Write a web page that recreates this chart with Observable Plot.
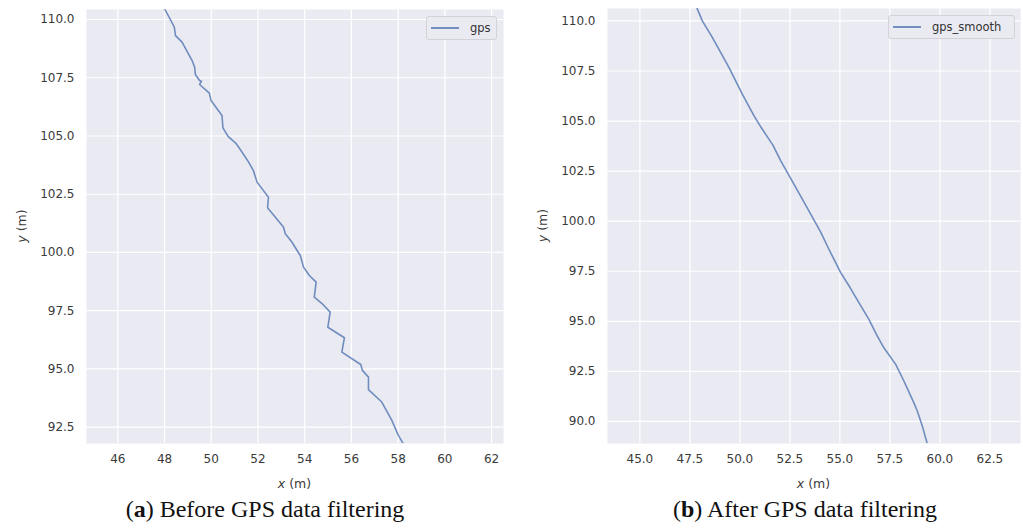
<!DOCTYPE html>
<html>
<head>
<meta charset="utf-8">
<script src="https://cdn.jsdelivr.net/npm/d3@7"></script>
<script src="https://cdn.jsdelivr.net/npm/@observablehq/plot@0.6"></script>
<style>
  body { margin: 0; background: #fff; }
  #wrap { position: relative; width: 1023px; height: 530px; overflow: hidden; font-family: "DejaVu Sans", sans-serif; }
  .panel { position: absolute; top: 0; }
  .legend { position: absolute; box-sizing: border-box; background: #EAEAF2; border: 1px solid #d2d2d8; border-radius: 3px;
            font-family: "DejaVu Sans", sans-serif; font-size: 11.5px; color: #333; display: flex; align-items: center; }
  .legend .ln { display: inline-block; height: 1.6px; background: #4C72B0; opacity: 0.75; }
  .caption { position: absolute; font-family: "Liberation Serif", "DejaVu Serif", serif; font-size: 24px; color: #111; white-space: nowrap; transform: translateX(-50%); }
</style>
</head>
<body>
<div id="wrap"></div>
<script>
// ---- Data ----
const gpsX = [47.95, 48.02, 48.42, 48.47, 48.75, 49.18, 49.29, 49.32, 49.50, 49.58, 49.50, 49.92, 49.99, 50.46, 50.50, 50.72, 51.07, 51.27, 51.60, 51.81, 51.96, 52.45, 52.41, 53.09, 53.17, 53.45, 53.81, 53.95, 54.20, 54.49, 54.41, 54.73, 55.09, 54.99, 55.70, 55.59, 56.40, 56.47, 56.73, 56.73, 57.30, 57.73, 58.01, 58.22, 58.35];
const gpsY = [110.60, 110.43, 109.67, 109.31, 109.03, 108.24, 107.95, 107.64, 107.38, 107.35, 107.21, 106.84, 106.52, 105.88, 105.35, 104.98, 104.67, 104.38, 103.88, 103.50, 103.02, 102.37, 101.92, 101.09, 100.80, 100.45, 99.87, 99.37, 99.01, 98.73, 98.08, 97.82, 97.44, 96.79, 96.34, 95.72, 95.19, 94.94, 94.65, 94.11, 93.58, 92.79, 92.15, 91.79, 91.50];

const smoothX = [47.80, 47.87, 48.12, 48.62, 49.05, 49.45, 50.12, 50.70, 51.05, 51.35, 51.65, 52.05, 52.70, 53.54, 54.04, 54.45, 55.04, 55.50, 55.95, 56.45, 56.85, 57.20, 57.79, 58.20, 58.55, 58.70, 58.87, 59.12, 59.37, 59.45];
const smoothY = [110.90, 110.60, 110.00, 109.18, 108.40, 107.68, 106.35, 105.27, 104.70, 104.25, 103.80, 103.00, 101.85, 100.35, 99.45, 98.60, 97.43, 96.70, 95.93, 95.10, 94.30, 93.68, 92.85, 92.02, 91.25, 90.93, 90.52, 89.77, 88.88, 88.50];

const leftXTicks = [46, 48, 50, 52, 54, 56, 58, 60, 62];
const leftYTicks = [92.5, 95.0, 97.5, 100.0, 102.5, 105.0, 107.5, 110.0];
const rightXTicks = [45.0, 47.5, 50.0, 52.5, 55.0, 57.5, 60.0, 62.5];
const rightYTicks = [90.0, 92.5, 95.0, 97.5, 100.0, 102.5, 105.0, 107.5, 110.0];

const seriesNames = ["gps", "gps_smooth"];
const captions = [["a", " Before GPS data filtering"], ["b", " After GPS data filtering"]];

const lineColor = "#4C72B0";
const bg = "#EAEAF2";

function makePanel(opts) {
  const rows = opts.xs.map((x, i) => ({x, y: opts.ys[i]}));
  const svg = Plot.plot({
    width: opts.width,
    height: 500,
    marginLeft: opts.ml,
    marginRight: opts.mr,
    marginTop: opts.mt,
    marginBottom: 57,
    style: {fontFamily: "DejaVu Sans, sans-serif", fontSize: "12px", color: "#3a3a3a", background: "transparent"},
    x: {domain: opts.xd, ticks: opts.xt, tickFormat: opts.xf, tickSize: 0, tickPadding: 11, label: null},
    y: {domain: opts.yd, ticks: opts.yt, tickFormat: d3.format(".1f"), tickSize: 0, tickPadding: 12, label: null},
    marks: [
      Plot.frame({fill: bg, stroke: null}),
      Plot.gridX(opts.xt, {stroke: "#fff", strokeOpacity: 1, strokeWidth: 1.2}),
      Plot.gridY(opts.yt, {stroke: "#fff", strokeOpacity: 1, strokeWidth: 1.2}),
      Plot.line(rows, {x: "x", y: "y", stroke: lineColor, strokeWidth: 1.6, strokeOpacity: 0.78, clip: true})
    ]
  });
  const s = d3.select(svg);
  // axis titles
  const yl = s.append("text")
    .attr("transform", `translate(${opts.ylx},${(opts.mt + 443) / 2}) rotate(-90)`)
    .attr("text-anchor", "middle").attr("dominant-baseline", "middle")
    .attr("fill", "#3a3a3a").attr("font-size", 12.5).attr("font-family", "DejaVu Sans, sans-serif");
  yl.append("tspan").attr("font-style", "italic").text("y");
  yl.append("tspan").text(" (m)");
  const xl = s.append("text")
    .attr("x", (opts.ml + opts.width - opts.mr) / 2).attr("y", 484)
    .attr("text-anchor", "middle").attr("dominant-baseline", "middle")
    .attr("fill", "#3a3a3a").attr("font-size", 12.5).attr("font-family", "DejaVu Sans, sans-serif");
  xl.append("tspan").attr("font-style", "italic").text("x");
  xl.append("tspan").text(" (m)");
  return svg;
}

const wrap = document.getElementById("wrap");

const left = document.createElement("div");
left.className = "panel"; left.style.left = "0px";
left.appendChild(makePanel({
  xs: gpsX, ys: gpsY, width: 511, ml: 86, mr: 8, mt: 9,
  xd: [44.66, 62.51], yd: [91.8, 110.43], xt: leftXTicks, yt: leftYTicks,
  xf: d3.format("d"), ylx: 22
}));
wrap.appendChild(left);

const right = document.createElement("div");
right.className = "panel"; right.style.left = "512px";
right.appendChild(makePanel({
  xs: smoothX, ys: smoothY, width: 511, ml: 95, mr: 3, mt: 8,
  xd: [43.38, 64.03], yd: [88.9, 110.62], xt: rightXTicks, yt: rightYTicks,
  xf: d3.format(".1f"), ylx: 31
}));
wrap.appendChild(right);

// legends
function legend(name, x, y, w, lineW) {
  const d = document.createElement("div");
  d.className = "legend";
  d.style.left = x + "px"; d.style.top = y + "px"; d.style.width = w + "px"; d.style.height = "24px";
  d.style.paddingLeft = "4px";
  const ln = document.createElement("span"); ln.className = "ln"; ln.style.width = lineW + "px";
  const t = document.createElement("span"); t.textContent = name; t.style.marginLeft = "11px";
  d.appendChild(ln); d.appendChild(t);
  wrap.appendChild(d);
}
legend(seriesNames[0], 426, 16, 71, 28);
legend(seriesNames[1], 888, 15, 127, 28);

// captions
[[265, captions[0]], [805, captions[1]]].forEach(([cx, [letter, rest]]) => {
  const c = document.createElement("div");
  c.className = "caption";
  c.style.left = cx + "px"; c.style.top = "496px";
  c.innerHTML = `(<b>${letter}</b>)${rest}`;
  wrap.appendChild(c);
});
</script>
</body>
</html>
